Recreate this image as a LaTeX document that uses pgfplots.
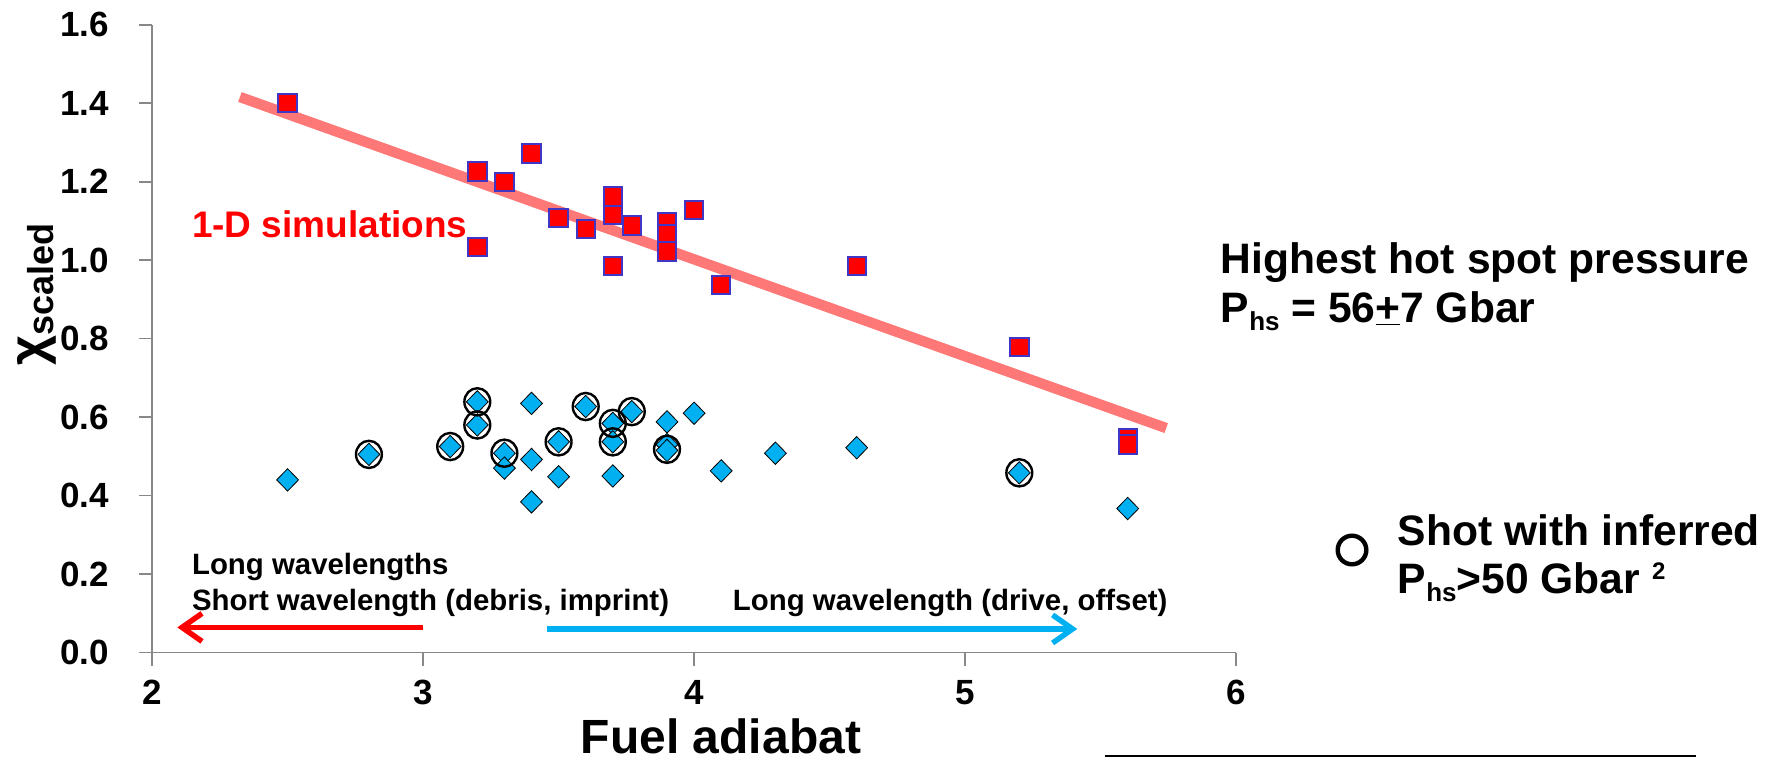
\documentclass[border=0pt]{standalone}
\usepackage{pgfplots}
\pgfplotsset{compat=1.18}
\usepackage{fontspec}
\setmainfont{Liberation Sans}
\usetikzlibrary{arrows.meta}
\definecolor{sqred}{HTML}{FF0000}
\definecolor{sqedge}{HTML}{4035C4}
\definecolor{diab}{HTML}{00B0F0}
\definecolor{axgray}{HTML}{888888}

\begin{document}
\begin{tikzpicture}
\begin{scope}[x=0.5pt,y=-0.5pt]
\path[use as bounding box] (0,0) rectangle (1767,760);
\end{scope}
\begin{axis}[
  at={(76.05pt,-326.25pt)}, anchor=south west,
  scale only axis, width=542pt, height=313.85pt,
  xmin=2, xmax=6, ymin=0, ymax=1.6,
  axis lines*=left,
  axis line style={axgray, line width=0.8pt},
  tick style={axgray, line width=0.8pt},
  tick align=outside, major tick length=6.5pt,
  xtick={2,3,4,5,6},
  ytick={0,0.2,0.4,0.6,0.8,1.0,1.2,1.4,1.6},
  clip=false,
  /pgf/number format/assume math mode=true,
  ticklabel style={font=\bfseries\fontsize{17.5}{17.5}\selectfont},
  yticklabel style={xshift=-11.5pt, /pgf/number format/fixed, /pgf/number format/fixed zerofill, /pgf/number format/precision=1},
  xticklabel style={yshift=-3.8pt},
]
% red squares (1-D simulations)
\addplot[only marks, mark=square*, mark size=4.6pt,
  mark options={fill=sqred, draw=sqedge, line width=1pt}] coordinates {
(2.5,1.400) (3.2,1.226) (3.2,1.034) (3.3,1.200) (3.4,1.272) (3.5,1.107)
(3.6,1.080) (3.7,1.162) (3.7,1.115) (3.7,0.985) (3.77,1.088) (3.9,1.098)
(3.9,1.066) (3.9,1.022) (4.0,1.128) (4.1,0.937) (4.6,0.985) (5.2,0.778)
(5.6,0.545) (5.6,0.530)
};
% fit line
\addplot[red, opacity=0.53, line width=5.2pt] coordinates {(2.324,1.416) (5.742,0.572)};
% blue diamonds (data)
\addplot[only marks, mark=diamond*, mark size=5.6pt,
  mark options={fill=diab, draw=none, xscale=1.3}] coordinates {
(2.5,0.440) (2.8,0.505) (3.1,0.525) (3.2,0.639) (3.2,0.580) (3.3,0.508)
(3.3,0.470) (3.4,0.635) (3.4,0.492) (3.4,0.384) (3.5,0.537) (3.5,0.448)
(3.6,0.627) (3.7,0.584) (3.7,0.537) (3.7,0.450) (3.77,0.614) (3.9,0.588)
(3.9,0.530) (3.9,0.515) (4.0,0.610) (4.1,0.463) (4.3,0.508) (4.6,0.522)
(5.2,0.458) (5.6,0.367)
};
% circles: shots with inferred P_hs > 50 Gbar
\addplot[only marks, mark=o, mark size=6.8pt,
  mark options={draw=black, line width=1.2pt, xscale=0.95}] coordinates {
(2.8,0.505) (3.1,0.525) (3.2,0.639) (3.2,0.580) (3.3,0.508) (3.5,0.537)
(3.6,0.627) (3.7,0.584) (3.7,0.537) (3.77,0.614) (3.9,0.518) (5.2,0.458)
};
% arrows
\addplot[red, line width=2.7pt, -{Straight Barb[length=10pt,width=14pt]}]
  coordinates {(3.0,0.064) (2.093,0.064)};
\addplot[diab, line width=2.7pt, -{Straight Barb[length=10pt,width=14pt]}]
  coordinates {(3.459,0.060) (5.414,0.060)};
% annotations
\node[anchor=base west, inner sep=0, text=red, font=\bfseries\fontsize{18.5}{18.5}\selectfont]
  at (axis cs:2.146,1.059) {1-D simulations};
\node[anchor=base west, inner sep=0, font=\bfseries\fontsize{14.7}{14.7}\selectfont]
  at (axis cs:2.146,0.198) {Long wavelengths};
\node[anchor=base west, inner sep=0, font=\bfseries\fontsize{14.7}{14.7}\selectfont]
  at (axis cs:2.146,0.108) {Short wavelength (debris, imprint)};
\node[anchor=base west, inner sep=0, font=\bfseries\fontsize{14.7}{14.7}\selectfont]
  at (axis cs:4.142,0.108) {Long wavelength (drive, offset)};
\end{axis}
\begin{scope}[x=0.5pt,y=-0.5pt]
\node[rotate=90, anchor=base west, inner sep=0, font=\bfseries]
  at (46,366) {{\fontsize{26}{26}\selectfont χ}\raisebox{-4pt}{\fontsize{18}{18}\selectfont scaled}};
\node[anchor=base, inner sep=0, font=\bfseries\fontsize{24}{24}\selectfont]
  at (721,753) {Fuel adiabat};
\node[anchor=base west, inner sep=0, font=\bfseries\fontsize{21.3}{21.3}\selectfont]
  at (1220.5,273) {Highest hot spot pressure};
\node[anchor=base west, inner sep=0, font=\bfseries\fontsize{21.3}{21.3}\selectfont]
  at (1220.5,322) {P\raisebox{-4pt}{\fontsize{13}{13}\selectfont hs} = 56\underline{+}7 Gbar};
\draw[black, line width=2.2pt] (1352,550) circle [radius=14.3];
\node[anchor=base west, inner sep=0, font=\bfseries\fontsize{21.3}{21.3}\selectfont]
  at (1397.5,545) {Shot with inferred};
\node[anchor=base west, inner sep=0, font=\bfseries\fontsize{21.3}{21.3}\selectfont]
  at (1397.5,593) {P\raisebox{-4pt}{\fontsize{13}{13}\selectfont hs}>50 Gbar \raisebox{7pt}{\fontsize{12}{12}\selectfont 2}};
\draw[black, line width=1pt] (1104.5,756) -- (1696,756);
\end{scope}
\end{tikzpicture}
\end{document}
